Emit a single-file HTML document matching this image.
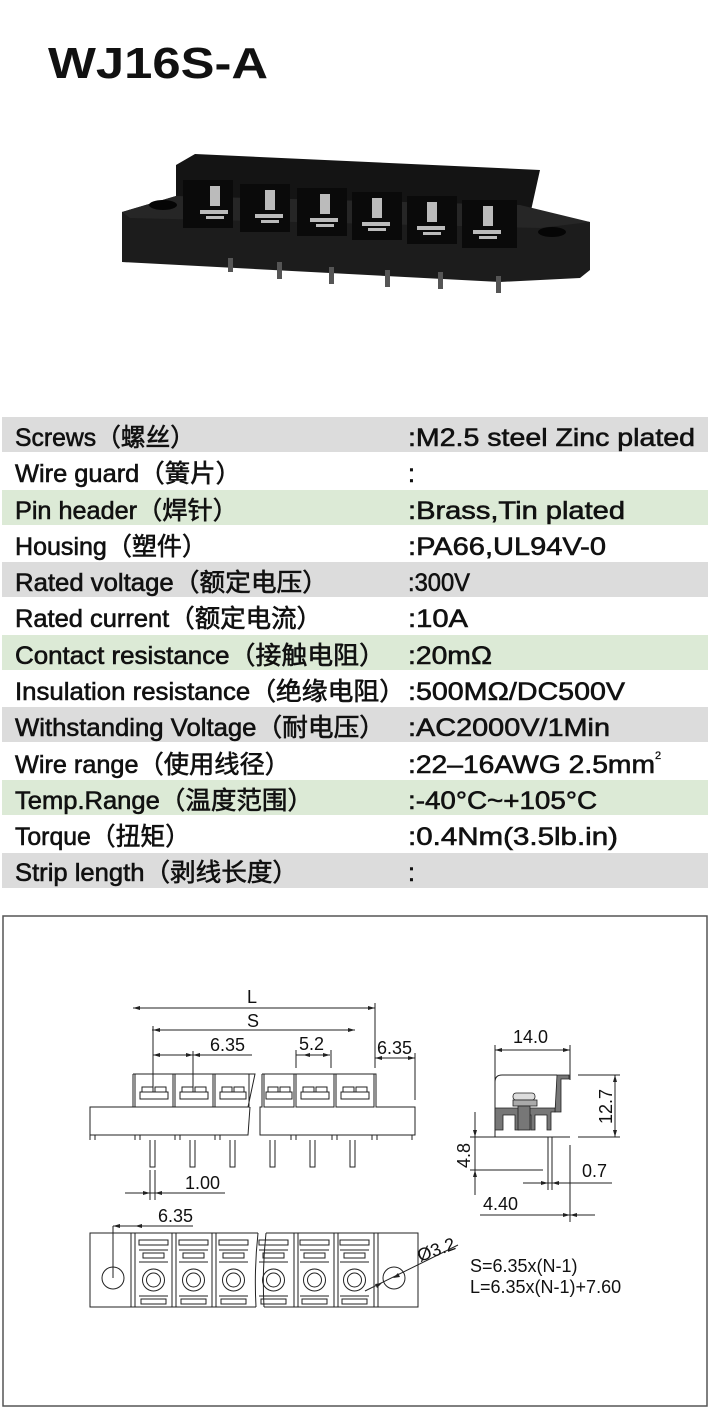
<!DOCTYPE html>
<html><head><meta charset="utf-8"><style>
html,body{margin:0;padding:0;background:#fff;width:710px;height:1413px;overflow:hidden}
svg{display:block}
.t{font-family:"Liberation Sans","Noto Sans CJK SC",sans-serif;font-size:25px;fill:#111;stroke:#111;stroke-width:0.6}
.d{font-family:"Liberation Sans",sans-serif;font-size:18px;fill:#111}
.l{stroke:#222;stroke-width:1;fill:none}
.b{stroke:#222;stroke-width:1.2;fill:#fff}
</style></head><body>
<svg width="710" height="1413" viewBox="0 0 710 1413" xmlns="http://www.w3.org/2000/svg">
<text x="48" y="78" font-family="Liberation Sans,sans-serif" font-weight="bold" font-size="44" textLength="220" lengthAdjust="spacingAndGlyphs" fill="#111">WJ16S-A</text>

<!-- photo -->
<g>
<polygon points="176,165 195,154 540,170 530,215 530,245 176,245" fill="#141414"/>
<polygon points="122,212 176,196 176,200 500,210 590,222 590,270 580,278 500,282 122,262" fill="#1c1c1c"/>
<polygon points="122,212 176,196 520,205 590,222 540,228 130,218" fill="#262626"/>
<ellipse cx="163" cy="205" rx="14" ry="5" fill="#050505"/>
<ellipse cx="552" cy="232" rx="14" ry="5" fill="#050505"/>
<g fill="#0a0a0a">
<rect x="183" y="180" width="50" height="48"/><rect x="240" y="184" width="50" height="48"/><rect x="297" y="188" width="50" height="48"/><rect x="352" y="192" width="50" height="48"/><rect x="407" y="196" width="50" height="48"/><rect x="462" y="200" width="55" height="48"/>
</g>
<g fill="#bbb">
<rect x="210" y="186" width="10" height="20"/><rect x="200" y="210" width="28" height="4"/><rect x="206" y="216" width="18" height="3"/>
<rect x="265" y="190" width="10" height="20"/><rect x="255" y="214" width="28" height="4"/><rect x="261" y="220" width="18" height="3"/>
<rect x="320" y="194" width="10" height="20"/><rect x="310" y="218" width="28" height="4"/><rect x="316" y="224" width="18" height="3"/>
<rect x="372" y="198" width="10" height="20"/><rect x="362" y="222" width="28" height="4"/><rect x="368" y="228" width="18" height="3"/>
<rect x="427" y="202" width="10" height="20"/><rect x="417" y="226" width="28" height="4"/><rect x="423" y="232" width="18" height="3"/>
<rect x="483" y="206" width="10" height="20"/><rect x="473" y="230" width="28" height="4"/><rect x="479" y="236" width="18" height="3"/>
</g>
<g fill="#555">
<rect x="228" y="258" width="5" height="14"/><rect x="277" y="262" width="5" height="17"/><rect x="329" y="267" width="5" height="17"/><rect x="385" y="270" width="5" height="17"/><rect x="438" y="272" width="5" height="17"/><rect x="496" y="276" width="5" height="17"/>
</g>
</g>

<!-- table -->
<g>
<rect x="2" y="417" width="706" height="35" fill="#dcdcdc"/>
<rect x="2" y="490" width="706" height="35" fill="#dcead6"/>
<rect x="2" y="562" width="706" height="35" fill="#dcdcdc"/>
<rect x="2" y="635" width="706" height="35" fill="#dcead6"/>
<rect x="2" y="707" width="706" height="35" fill="#dcdcdc"/>
<rect x="2" y="780" width="706" height="35" fill="#dcead6"/>
<rect x="2" y="853" width="706" height="35" fill="#dcdcdc"/>
</g>
<g class="t">
<text x="15" y="446" textLength="180" lengthAdjust="spacingAndGlyphs">Screws（螺丝）</text>
<text x="15" y="482" textLength="226" lengthAdjust="spacingAndGlyphs">Wire guard（簧片）</text>
<text x="15" y="519" textLength="223" lengthAdjust="spacingAndGlyphs">Pin header（焊针）</text>
<text x="15" y="555" textLength="192" lengthAdjust="spacingAndGlyphs">Housing（塑件）</text>
<text x="15" y="591" textLength="313" lengthAdjust="spacingAndGlyphs">Rated voltage（额定电压）</text>
<text x="15" y="627" textLength="307" lengthAdjust="spacingAndGlyphs">Rated current（额定电流）</text>
<text x="15" y="664" textLength="370" lengthAdjust="spacingAndGlyphs">Contact resistance（接触电阻）</text>
<text x="15" y="700" textLength="390" lengthAdjust="spacingAndGlyphs">Insulation resistance（绝缘电阻）</text>
<text x="15" y="736" textLength="370" lengthAdjust="spacingAndGlyphs">Withstanding Voltage（耐电压）</text>
<text x="15" y="773" textLength="275" lengthAdjust="spacingAndGlyphs">Wire range（使用线径）</text>
<text x="15" y="809" textLength="298" lengthAdjust="spacingAndGlyphs">Temp.Range（温度范围）</text>
<text x="15" y="845" textLength="175" lengthAdjust="spacingAndGlyphs">Torque（扭矩）</text>
<text x="15" y="881" textLength="283" lengthAdjust="spacingAndGlyphs">Strip length（剥线长度）</text>

<text x="408" y="446" textLength="287" lengthAdjust="spacingAndGlyphs">:M2.5 steel Zinc plated</text>
<text x="408" y="482">:</text>
<text x="408" y="519" textLength="217" lengthAdjust="spacingAndGlyphs">:Brass,Tin plated</text>
<text x="408" y="555" textLength="198" lengthAdjust="spacingAndGlyphs">:PA66,UL94V-0</text>
<text x="408" y="591" textLength="62" lengthAdjust="spacingAndGlyphs">:300V</text>
<text x="408" y="627" textLength="60" lengthAdjust="spacingAndGlyphs">:10A</text>
<text x="408" y="664" textLength="84" lengthAdjust="spacingAndGlyphs">:20mΩ</text>
<text x="408" y="700" textLength="217" lengthAdjust="spacingAndGlyphs">:500MΩ/DC500V</text>
<text x="408" y="736" textLength="202" lengthAdjust="spacingAndGlyphs">:AC2000V/1Min</text>
<text x="408" y="773" textLength="247" lengthAdjust="spacingAndGlyphs">:22–16AWG 2.5mm</text>
<text x="655" y="759" font-size="11" stroke-width="0.3">2</text>
<text x="408" y="809" textLength="189" lengthAdjust="spacingAndGlyphs">:-40°C~+105°C</text>
<text x="408" y="845" textLength="210" lengthAdjust="spacingAndGlyphs">:0.4Nm(3.5lb.in)</text>
<text x="408" y="881">:</text>
</g>

<!-- drawing frame -->
<rect x="3" y="916" width="704" height="490" fill="none" stroke="#555" stroke-width="1.5"/>

<!-- front view -->
<g class="l">
<line x1="133" y1="1008" x2="375" y2="1008"/>
<line x1="152" y1="1030" x2="355" y2="1030"/>
<line x1="153" y1="1055" x2="252" y2="1055"/>
<line x1="296" y1="1055" x2="330" y2="1055"/>
<line x1="375" y1="1058" x2="415" y2="1058"/>
<line x1="375" y1="1003" x2="375" y2="1068"/>
<line x1="415" y1="1053" x2="415" y2="1100"/>
<line x1="153" y1="1026" x2="153" y2="1088"/>
<line x1="193" y1="1051" x2="193" y2="1088"/>
<line x1="296" y1="1050" x2="296" y2="1068"/>
<line x1="331" y1="1050" x2="331" y2="1068"/>
</g>
<g fill="#222">
<polygon points="133,1008 140,1006 140,1010"/><polygon points="368,1006 375,1008 368,1010"/>
<polygon points="153,1030 160,1028 160,1032"/><polygon points="348,1028 355,1030 348,1032"/>
<polygon points="153,1055 160,1053 160,1057"/><polygon points="193,1055 186,1053 186,1057"/><polygon points="193,1055 200,1053 200,1057"/>
<polygon points="303,1055 310,1053 310,1057"/><polygon points="323,1053 330,1055 323,1057"/>
<polygon points="375,1058 382,1056 382,1060"/><polygon points="415,1058 408,1056 408,1060"/>
</g>
<g class="d"><text x="247" y="1003">L</text><text x="247" y="1027">S</text><text x="210" y="1051">6.35</text><text x="299" y="1050">5.2</text><text x="377" y="1054">6.35</text></g>
<g class="l" stroke-width="1.2">
<path d="M133,1074 L255,1074 L248,1107 L90,1107 L90,1135 L95,1135 L95,1140 M95,1135 L135,1135 M250,1107 L248,1135 L90,1135"/>
<path d="M262,1074 L376,1074 L376,1107 L415,1107 L415,1135 L260,1135 L260,1107 L262,1107 L262,1074"/>
<line x1="133" y1="1074" x2="133" y2="1107"/>
<line x1="90" y1="1135" x2="90" y2="1140"/><line x1="135" y1="1135" x2="135" y2="1140"/><line x1="140" y1="1135" x2="140" y2="1140"/>
<line x1="175" y1="1135" x2="175" y2="1140"/><line x1="180" y1="1135" x2="180" y2="1140"/>
<line x1="215" y1="1135" x2="215" y2="1140"/><line x1="220" y1="1135" x2="220" y2="1140"/>
<line x1="291" y1="1135" x2="291" y2="1140"/><line x1="296" y1="1135" x2="296" y2="1140"/>
<line x1="332" y1="1135" x2="332" y2="1140"/><line x1="337" y1="1135" x2="337" y2="1140"/>
<line x1="372" y1="1135" x2="372" y2="1140"/><line x1="377" y1="1135" x2="377" y2="1140"/>
<line x1="412" y1="1135" x2="412" y2="1140"/>
</g>
<g class="l">
<rect x="135" y="1074" width="38" height="33"/><rect x="175" y="1074" width="38" height="33"/><rect x="215" y="1074" width="34" height="33"/>
<rect x="264" y="1074" width="30" height="33"/><rect x="296" y="1074" width="38" height="33"/><rect x="336" y="1074" width="38" height="33"/>
</g>
<g class="l">
<path d="M140,1099 h28 v-7 h-28 z M142,1092 v-5 h11 v5 M155,1092 v-5 h11 v5"/>
<path d="M180,1099 h28 v-7 h-28 z M182,1092 v-5 h11 v5 M195,1092 v-5 h11 v5"/>
<path d="M220,1099 h26 v-7 h-26 z M222,1092 v-5 h10 v5 M234,1092 v-5 h10 v5"/>
<path d="M266,1099 h26 v-7 h-26 z M268,1092 v-5 h10 v5 M280,1092 v-5 h10 v5"/>
<path d="M301,1099 h28 v-7 h-28 z M303,1092 v-5 h11 v5 M316,1092 v-5 h11 v5"/>
<path d="M341,1099 h28 v-7 h-28 z M343,1092 v-5 h11 v5 M356,1092 v-5 h11 v5"/>
</g>
<g class="l">
<path d="M150,1140 v27 h5 v-27"/><path d="M190,1140 v27 h5 v-27"/><path d="M230,1140 v27 h5 v-27"/>
<path d="M270,1140 v27 h5 v-27"/><path d="M310,1140 v27 h5 v-27"/><path d="M350,1140 v27 h5 v-27"/>
<line x1="150" y1="1170" x2="150" y2="1200"/><line x1="155" y1="1170" x2="155" y2="1200"/>
<line x1="125" y1="1193" x2="225" y2="1193"/>
</g>
<g fill="#222"><polygon points="150,1193 143,1191 143,1195"/><polygon points="155,1193 162,1191 162,1195"/></g>
<text class="d" x="185" y="1189">1.00</text>

<!-- side view -->
<g class="l">
<line x1="495" y1="1045" x2="495" y2="1137"/><line x1="570" y1="1045" x2="570" y2="1080"/>
<line x1="495" y1="1050" x2="570" y2="1050"/>
<path d="M495,1137 V1082 Q495,1075 502,1075 H557"/>
<line x1="495" y1="1137" x2="570" y2="1137"/>
<line x1="578" y1="1075" x2="620" y2="1075"/><line x1="578" y1="1137" x2="620" y2="1137"/>
<line x1="615" y1="1075" x2="615" y2="1137"/>
<line x1="475" y1="1112" x2="475" y2="1195"/>
<line x1="470" y1="1137" x2="495" y2="1137"/><line x1="470" y1="1170" x2="543" y2="1170"/>
<line x1="523" y1="1183" x2="612" y2="1183"/>
<line x1="480" y1="1215" x2="595" y2="1215"/>
<line x1="570" y1="1145" x2="570" y2="1222"/>
<line x1="548" y1="1137" x2="548" y2="1190"/><line x1="552" y1="1137" x2="552" y2="1190"/>
</g>
<g fill="#777" stroke="#222" stroke-width="0.8">
<path d="M557,1075 h12 v4 h-8 v33 h-6 z"/>
<path d="M495,1108 h60 v4 h-4 v18 h-4 v-15 h-12 v15 h-4 v-15 h-12 v15 h-4 v-15 h-12 v15 h-8 z"/>
<rect x="513" y="1093" width="22" height="7" rx="3" fill="#ddd"/>
<rect x="513" y="1100" width="24" height="6" fill="#aaa"/>
<rect x="518" y="1106" width="12" height="24"/>
</g>
<g fill="#222">
<polygon points="495,1050 502,1048 502,1052"/><polygon points="570,1050 563,1048 563,1052"/>
<polygon points="615,1075 613,1082 617,1082"/><polygon points="615,1137 613,1130 617,1130"/>
<polygon points="475,1137 473,1130 477,1130"/><polygon points="475,1170 473,1177 477,1177"/>
<polygon points="548,1183 541,1181 541,1185"/><polygon points="552,1183 559,1181 559,1185"/>
<polygon points="570,1215 563,1213 563,1217"/><polygon points="570,1215 577,1213 577,1217"/>
</g>
<g class="d">
<text x="513" y="1043">14.0</text>
<text x="582" y="1177">0.7</text>
<text x="483" y="1210">4.40</text>
<text transform="translate(612,1124) rotate(-90)">12.7</text>
<text transform="translate(470,1168) rotate(-90)">4.8</text>
</g>

<!-- bottom view -->
<g class="l">
<line x1="113" y1="1226" x2="193" y2="1226"/><line x1="113" y1="1226" x2="113" y2="1278"/>
</g>
<g fill="#222"><polygon points="113,1226 120,1224 120,1228"/><polygon points="135,1226 142,1224 142,1228"/></g>
<text class="d" x="158" y="1222">6.35</text>
<g class="l" stroke-width="1.2">
<path d="M258,1233 H90 V1307 H256"/>
<path d="M258,1233 Q254,1270 256,1307"/>
<path d="M266,1233 H418 V1307 H264"/>
<path d="M266,1233 Q262,1270 264,1307"/>
</g>
<g class="l">
<circle cx="113" cy="1278" r="11"/><circle cx="394" cy="1278" r="11"/>
<line x1="131" y1="1233" x2="131" y2="1307"/><line x1="135" y1="1233" x2="135" y2="1307"/>
<line x1="172" y1="1233" x2="172" y2="1307"/><line x1="176" y1="1233" x2="176" y2="1307"/>
<line x1="212" y1="1233" x2="212" y2="1307"/><line x1="216" y1="1233" x2="216" y2="1307"/>
<line x1="294" y1="1233" x2="294" y2="1307"/><line x1="298" y1="1233" x2="298" y2="1307"/>
<line x1="334" y1="1233" x2="334" y2="1307"/><line x1="338" y1="1233" x2="338" y2="1307"/>
<line x1="374" y1="1233" x2="374" y2="1307"/><line x1="378" y1="1233" x2="378" y2="1307"/>
</g>
<g class="l">
<g id="m"><rect x="139" y="1240" width="29" height="5"/><line x1="139" y1="1250" x2="168" y2="1250"/><rect x="143" y="1253" width="21" height="5"/><line x1="139" y1="1262" x2="168" y2="1262"/><circle cx="153.5" cy="1280" r="11"/><circle cx="153.5" cy="1280" r="7"/><line x1="139" y1="1296" x2="168" y2="1296"/><rect x="141" y="1299" width="25" height="5"/></g>
<use href="#m" x="40"/><use href="#m" x="80"/><use href="#m" x="120"/><use href="#m" x="161"/><use href="#m" x="201"/>
</g>
<g class="l"><line x1="365" y1="1291" x2="458" y2="1245"/></g>
<g fill="#222"><polygon points="382,1283 375,1284 377,1288"/><polygon points="393,1278 400,1277 398,1273"/></g>
<g class="d">
<text transform="translate(420,1262) rotate(-20)">Ø3.2</text>
<text x="470" y="1272">S=6.35x(N-1)</text>
<text x="470" y="1293">L=6.35x(N-1)+7.60</text>
</g>
</svg>
</body></html>
